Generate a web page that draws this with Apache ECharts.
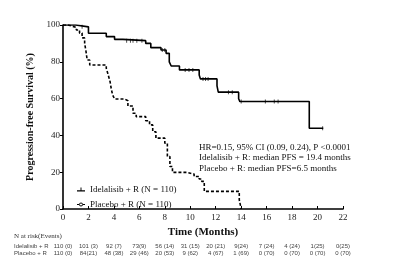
<!DOCTYPE html>
<html>
<head>
<meta charset="utf-8">
<script src="https://cdn.jsdelivr.net/npm/echarts@6/dist/echarts.min.js"></script>
<style>
  html, body { margin: 0; padding: 0; background: #fff; }
  #chart { width: 400px; height: 271px; }
</style>
</head>
<body>
<div id="chart"></div>
<script>
// KM step points: [month, survival % after the event]
const idelaSteps = [
  [0, 100], [1.0, 99], [2.0, 95.5], [3.4, 93.7], [4.05, 92.2], [4.7, 91.5],
  [6.5, 90], [6.9, 87.7], [7.7, 86.4], [8.1, 84.6], [8.35, 80], [8.5, 77.7],
  [9.15, 75.6], [10.7, 72.8], [10.8, 70.7], [12.1, 66.9], [12.2, 63.5],
  [13.8, 59.9], [13.9, 58.4], [19.35, 43.9], [20.45, 43.9]
]
const placeboSteps = [
  [0, 100], [0.4, 99.5], [0.65, 98.7], [1.05, 97.3], [1.3, 95.6], [1.5, 93],
  [1.7, 90], [1.8, 86], [1.9, 81], [2.1, 78.3], [3.4, 76.5], [3.55, 72.9],
  [3.7, 69.2], [3.8, 65], [3.9, 62], [4.05, 59.8], [4.85, 58.8], [5.1, 56],
  [5.5, 52], [5.75, 50.2], [6.5, 48], [6.8, 45.7], [7.05, 42], [7.3, 38.5],
  [8.0, 35.8], [8.2, 28.5], [8.4, 23.1], [8.6, 19.9], [9.7, 19], [10.3, 17.7],
  [10.7, 16.3], [10.9, 15], [11.1, 9.6], [13.85, 5], [14.0, 0]
]
// censored observations
const idelaCensor = [
  [1.5, 99], [5.0, 91.5], [5.3, 91.5], [5.5, 91.5], [5.8, 91.5], [6.2, 91.5],
  [7.8, 86.4], [8.0, 86.4], [9.6, 75.6], [9.9, 75.6], [10.2, 75.6],
  [11.0, 70.7], [11.2, 70.7], [11.4, 70.7], [13.0, 63.5], [13.3, 63.5],
  [14.0, 58.4], [15.9, 58.4], [16.6, 58.4], [16.9, 58.4], [20.4, 43.9]
]
const placeboCensor = [
  [2.2, 78.3], [2.4, 78.3], [3.6, 71], [3.75, 67], [4.9, 57.5], [5.3, 54],
  [5.5, 52], [6.8, 46.5], [7.5, 38.5], [7.7, 38.5], [13.7, 9.6]
]

const riskTimes = [0, 2, 4, 6, 8, 10, 12, 14, 16, 18, 20, 22]
const idelaRisk = ['110 (0)', '101 (3)', '92 (7)', '73(9)', '56 (14)', '31 (15)', '20 (21)', '9(24)', '7 (24)', '4 (24)', '1(25)', '0(25)']
const placeboRisk = ['110 (0)', '84(21)', '48 (38)', '29 (46)', '20 (53)', '9 (62)', '4 (67)', '1 (69)', '0 (70)', '0 (70)', '0 (70)', '0 (70)']

const annotationLines = [
  'HR=0.15, 95% CI (0.09, 0.24), P <0.0001',
  'Idelalisib + R: median PFS = 19.4 months',
  'Placebo + R: median PFS=6.5 months'
]

const serif = '"Liberation Serif", "DejaVu Serif", serif'
const chart = echarts.init(document.getElementById('chart'))

chart.setOption({
  animation: false,
  backgroundColor: '#fff',
  grid: { left: 63, right: 57, top: 25, bottom: 62 },
  legend: {
    left: 72, top: 180, orient: 'vertical', itemGap: 6,
    itemWidth: 8, itemHeight: 6,
    textStyle: { fontFamily: serif, fontSize: 9, color: '#111' },
    data: [
      { name: 'Idelalisib + R (N = 110)', icon: 'path://M0,4.4h10v1.4h-10z M4.4,1h1.2v3.6h-1.2z' },
      { name: 'Placebo + R (N = 110)', icon: 'path://M0,4.5h3v1h-3z M7,4.5h3v1h-3z M5,2.6a2.4,2.4 0 1,0 0.01,0z M5,3.6a1.4,1.4 0 1,1 -0.01,0z' }
    ]
  },
  xAxis: {
    type: 'value', min: 0, max: 22, interval: 2,
    name: 'Time (Months)', nameLocation: 'middle', nameGap: 18,
    nameTextStyle: { fontFamily: serif, fontSize: 11, fontWeight: 'bold', color: '#111' },
    axisLine: { lineStyle: { color: '#000', width: 1.6 } },
    axisTick: { inside: true, length: 3, lineStyle: { color: '#000', width: 1 } },
    axisLabel: { fontFamily: serif, fontSize: 9, color: '#222', margin: 4 },
    splitLine: { show: false }
  },
  yAxis: {
    type: 'value', min: 0, max: 100, interval: 20,
    name: 'Progression-free Survival (%)', nameLocation: 'middle', nameGap: 17,
    nameTextStyle: { fontFamily: serif, fontSize: 10, fontWeight: 'bold', color: '#111' },
    axisLine: { show: true, lineStyle: { color: '#000', width: 1.6 } },
    axisTick: { show: true, length: 3, lineStyle: { color: '#000', width: 1 } },
    axisLabel: { fontFamily: serif, fontSize: 9, color: '#222', margin: 3 },
    splitLine: { show: false }
  },
  series: [
    {
      name: 'Idelalisib + R (N = 110)', type: 'line', step: 'end',
      data: idelaSteps, symbol: 'none',
      lineStyle: { color: '#000', width: 1.6 }, itemStyle: { color: '#000' }
    },
    {
      name: 'Placebo + R (N = 110)', type: 'line', step: 'end',
      data: placeboSteps, symbol: 'none',
      lineStyle: { color: '#000', width: 1.6, type: [3, 2] }, itemStyle: { color: '#000' }
    },
    {
      name: 'Idelalisib + R (N = 110)', type: 'scatter', data: idelaCensor,
      symbol: 'rect', symbolSize: [1, 4], itemStyle: { color: '#222' }
    },
    {
      name: 'Placebo + R (N = 110)', type: 'scatter', data: placeboCensor,
      symbol: 'emptyCircle', symbolSize: 3,
      itemStyle: { color: '#fff', borderColor: '#333', borderWidth: 0.8 }
    }
  ]
})

// annotation and number-at-risk table placed through the x scale
const tableFont = '6px "Liberation Sans", Arial, sans-serif'
const graphics = [
  {
    type: 'text', left: 199, top: 142,
    style: { text: annotationLines.join('\n'), font: '9px ' + serif, fill: '#111', lineHeight: 10.5 }
  },
  { type: 'text', left: 14, top: 233, style: { text: 'N at risk(Events)', font: '7px ' + serif, fill: '#333' } },
  { type: 'text', left: 14, top: 243, style: { text: 'Idelalisib + R', font: tableFont, fill: '#444' } },
  { type: 'text', left: 14, top: 250, style: { text: 'Placebo + R', font: tableFont, fill: '#444' } }
]
riskTimes.forEach((t, i) => {
  const x = chart.convertToPixel({ xAxisIndex: 0 }, t)
  graphics.push({ type: 'text', x: x, y: 243, style: { text: idelaRisk[i], font: tableFont, fill: '#444', align: 'center' } })
  graphics.push({ type: 'text', x: x, y: 250, style: { text: placeboRisk[i], font: tableFont, fill: '#444', align: 'center' } })
})
chart.setOption({ graphic: graphics })
</script>
</body>
</html>
